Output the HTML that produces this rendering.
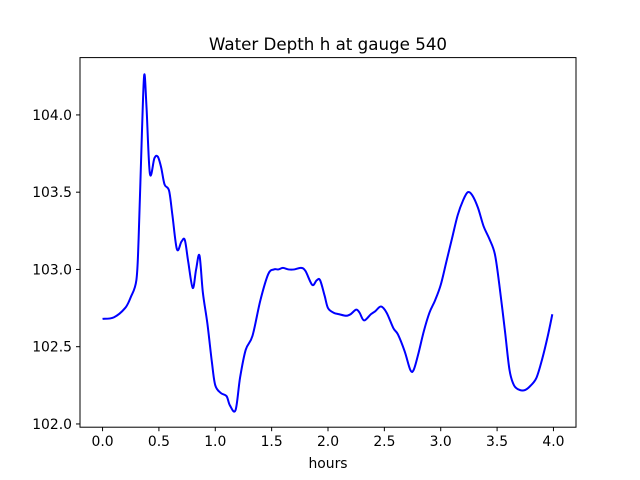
<!DOCTYPE html>
<html><head><meta charset="utf-8"><style>
body{margin:0;background:#fff;}
svg{display:block;font-family:"DejaVu Sans","Liberation Sans",sans-serif;}
</style></head><body>
<svg id="chart" width="640" height="480" viewBox="0 0 640 480">
<rect width="640" height="480" fill="#fff"/>
<text x="328" y="50" text-anchor="middle" font-size="16.7">Water Depth h at gauge 540</text>
<g id="ticks"></g>
<path id="line" fill="none" stroke="#0000ff" stroke-width="2"/>
<rect x="80" y="57.6" width="496" height="369.6" fill="none" stroke="#000" stroke-width="1"/>
<text x="328" y="468" text-anchor="middle" font-size="13.9">hours</text>
</svg>
<script>
const hours=[0,0.1,0.2,0.25,0.3,0.32,0.35,0.37,0.39,0.42,0.46,0.49,0.52,0.55,0.59,0.62,0.66,0.7,0.73,0.76,0.8,0.83,0.86,0.89,0.93,0.97,1.0,1.05,1.1,1.13,1.18,1.22,1.27,1.33,1.4,1.47,1.52,1.56,1.6,1.65,1.7,1.76,1.8,1.86,1.9,1.93,1.97,2.0,2.05,2.1,2.16,2.2,2.25,2.28,2.32,2.38,2.42,2.47,2.52,2.58,2.62,2.68,2.73,2.76,2.8,2.85,2.9,2.95,3.0,3.05,3.1,3.15,3.2,3.24,3.28,3.33,3.38,3.43,3.48,3.52,3.57,3.61,3.65,3.7,3.75,3.8,3.85,3.9,3.95,3.99];
const depth=[102.68,102.69,102.75,102.82,102.93,103.2,103.9,104.26,104.05,103.62,103.72,103.73,103.66,103.55,103.51,103.35,103.13,103.18,103.19,103.05,102.88,103.0,103.09,102.85,102.65,102.4,102.25,102.2,102.18,102.12,102.09,102.3,102.48,102.57,102.8,102.97,103.0,103.0,103.01,103.0,103.0,103.01,102.99,102.9,102.93,102.93,102.83,102.75,102.72,102.71,102.7,102.71,102.74,102.72,102.67,102.71,102.73,102.76,102.72,102.62,102.58,102.47,102.35,102.35,102.45,102.6,102.72,102.8,102.9,103.05,103.2,103.35,103.45,103.5,103.48,103.4,103.28,103.2,103.1,102.9,102.6,102.35,102.25,102.22,102.22,102.25,102.3,102.42,102.57,102.71];
const xTicks=[0,0.5,1,1.5,2,2.5,3,3.5,4];
const yTicks=[102.0,102.5,103.0,103.5,104.0];
const X0=80,X1=576,Y0=57.6,Y1=427.2,xmin=-0.2,xmax=4.2,ymin=101.979,ymax=104.371;
const sx=v=>X0+(v-xmin)/(xmax-xmin)*(X1-X0);
const sy=v=>Y1-(v-ymin)/(ymax-ymin)*(Y1-Y0);
const NS="http://www.w3.org/2000/svg";
const g=document.getElementById('ticks');
function mk(t,a){const e=document.createElementNS(NS,t);for(const k in a)e.setAttribute(k,a[k]);g.appendChild(e);return e;}
xTicks.forEach(v=>{const x=sx(v);
const l=mk('line',{x1:x,x2:x,y1:Y1,y2:Y1+4,stroke:'#000'});


const t=mk('text',{x:x,y:Y1+19,'text-anchor':'middle','font-size':13.9});t.textContent=v.toFixed(1);

});
yTicks.forEach(v=>{const y=sy(v);
const l=mk('line',{x1:X0-4,x2:X0,y1:y,y2:y,stroke:'#000'});


const t=mk('text',{x:X0-8,y:y+5,'text-anchor':'end','font-size':13.9});t.textContent=v.toFixed(1);

});
const P=hours.map((h,i)=>[sx(h),sy(depth[i])]);
let d='M'+P[0][0]+','+P[0][1];
for(let i=0;i<P.length-1;i++){const p0=P[Math.max(0,i-1)],p1=P[i],p2=P[i+1],p3=P[Math.min(P.length-1,i+2)];
const c1=[p1[0]+(p2[0]-p0[0])/6,p1[1]+(p2[1]-p0[1])/6],c2=[p2[0]-(p3[0]-p1[0])/6,p2[1]-(p3[1]-p1[1])/6];
d+=` C${c1[0]},${c1[1]} ${c2[0]},${c2[1]} ${p2[0]},${p2[1]}`;}
document.getElementById('line').setAttribute('d',d);
</script>
</body></html>
